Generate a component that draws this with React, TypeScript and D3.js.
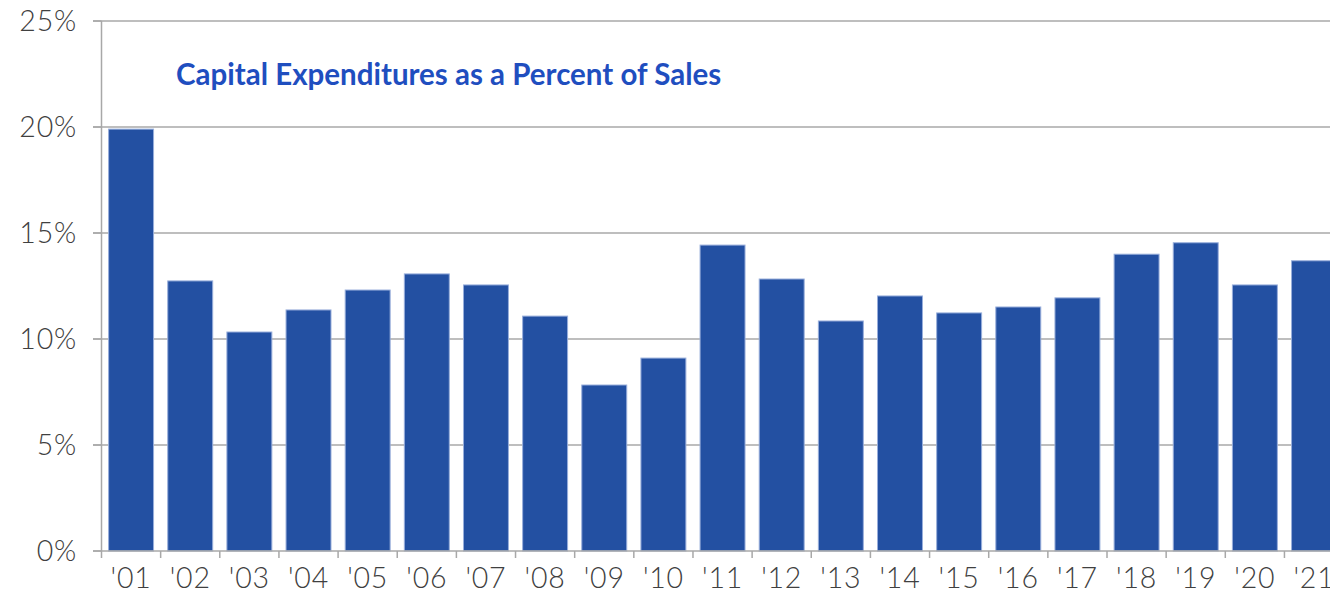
import React from "react";
import * as d3 from "d3";

const categories = ["'01","'02","'03","'04","'05","'06","'07","'08","'09","'10","'11","'12","'13","'14","'15","'16","'17","'18","'19","'20","'21"];
const values = [19.9, 12.74, 10.33, 11.37, 12.31, 13.07, 12.55, 11.08, 7.83, 9.1, 14.43, 12.83, 10.85, 12.03, 11.23, 11.51, 11.94, 14.0, 14.54, 12.55, 13.69];
const yTicks = [0, 5, 10, 15, 20, 25];
const title = "Capital Expenditures as a Percent of Sales";

const W = 1330, H = 593;
const left = 101.5, right = 1343.6, top = 21, bottom = 551;

export default function App() {
  const x = d3.scaleBand<string>().domain(categories).range([left, right]).paddingInner(0.24).paddingOuter(0.12);
  const y = d3.scaleLinear().domain([0, 25]).range([bottom, top]);
  const grid = "#a8a8a8";
  const textColor = "#404040";
  const font = "Lato, 'Noto Sans', sans-serif";
  return (
    <svg width={W} height={H} style={{ position: "absolute", left: 0, top: 0, background: "#fff" }}>
      {yTicks.map((t) => (
        <g key={t}>
          {t > 0 && <line x1={93} x2={W} y1={y(t)} y2={y(t)} stroke={grid} strokeWidth={1.5} />}
          <line x1={93} x2={left} y1={y(t)} y2={y(t)} stroke={grid} strokeWidth={1.5} />
          <text x={77} y={y(t)} dy="0.36em" textAnchor="end" fontFamily={font} fontWeight={300} fontSize={28.5} letterSpacing={0.8} fill={textColor}>
            {t}%
          </text>
        </g>
      ))}
      {categories.map((c, i) => (
        <rect key={c} x={x(c)} y={y(values[i])} width={x.bandwidth()} height={bottom - y(values[i])} fill="#2350A2" stroke="#98aedb" strokeWidth={1} />
      ))}
      <line x1={93} x2={W} y1={bottom} y2={bottom} stroke={grid} strokeWidth={1.5} />
      <line x1={left} x2={left} y1={top} y2={bottom + 7} stroke={grid} strokeWidth={1.5} />
      {categories.map((c, i) => (
        <line key={"t" + c} x1={left + (i + 1) * x.step()} x2={left + (i + 1) * x.step()} y1={bottom} y2={bottom + 7} stroke={grid} strokeWidth={1.5} />
      ))}
      {categories.map((c) => (
        <text key={"l" + c} x={(x(c) as number) + x.bandwidth() / 2} y={588} textAnchor="middle" fontFamily={font} fontWeight={300} fontSize={28.5} letterSpacing={0.8} fill={textColor}>
          {c}
        </text>
      ))}
      <text x={176} y={85} fontFamily="Lato, 'Open Sans', sans-serif" fontWeight={700} fontSize={29.5} fill="#1F4EBF">
        {title}
      </text>
    </svg>
  );
}
